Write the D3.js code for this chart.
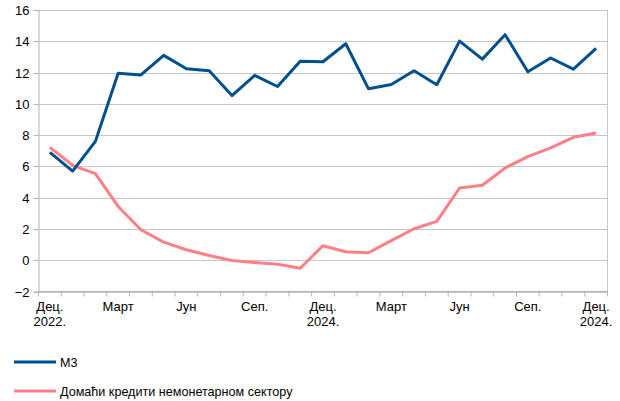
<!DOCTYPE html>
<html>
<head>
<meta charset="utf-8">
<script src="https://cdn.jsdelivr.net/npm/d3@7"></script>
<style>
  body { margin: 0; background: #fff; }
  text { font-family: "Liberation Sans", Arial, sans-serif; fill: #000; }
</style>
</head>
<body>
<svg id="chart" width="620" height="401"></svg>
<script>
// months Dec 2022 .. Dec 2024
var months = d3.range(25);
var tickLabels = ["Дец.|2022.", "", "", "Март", "", "", "Јун", "", "", "Сеп.", "", "",
  "Дец.|2024.", "", "", "Март", "", "", "Јун", "", "", "Сеп.", "", "", "Дец.|2024."];
var m3 = [6.9, 5.7, 7.6, 11.95, 11.85, 13.1, 12.24, 12.11, 10.53, 11.82, 11.11, 12.73,
  12.69, 13.84, 10.96, 11.24, 12.11, 11.22, 14.01, 12.86, 14.42, 12.05, 12.93, 12.22, 13.55];
var credit = [7.22, 6.07, 5.54, 3.44, 1.95, 1.16, 0.67, 0.3, -0.02, -0.14, -0.25, -0.51,
  0.93, 0.54, 0.48, 1.25, 2.01, 2.48, 4.62, 4.79, 5.9, 6.63, 7.18, 7.86, 8.14];
var yTicks = [-2, 0, 2, 4, 6, 8, 10, 12, 14, 16];
var seriesNames = ["М3", "Домаћи кредити немонетарном сектору"];
var colors = ["#004f8f", "#ff7f87"];

var plotLeft = 38.5, plotRight = 607.5, plotTop = 10, plotBottom = 291.5;
var svg = d3.select("#chart");

var x = d3.scaleBand().domain(months).range([plotLeft, plotRight]);
var y = d3.scaleLinear().domain([-2, 16]).range([plotBottom, plotTop]);

// gridlines
svg.append("g").selectAll("line").data(yTicks).enter().append("line")
  .attr("x1", plotLeft).attr("x2", plotRight)
  .attr("y1", function(d){ return Math.round(y(d)) + 0.5; })
  .attr("y2", function(d){ return Math.round(y(d)) + 0.5; })
  .attr("stroke", "#c6c6c6").attr("stroke-width", 1);

// right border
svg.append("line").attr("x1", plotRight).attr("x2", plotRight).attr("y1", plotTop).attr("y2", plotBottom)
  .attr("stroke", "#c6c6c6");

// y axis
var yAxis = d3.axisLeft(y).tickValues(yTicks).tickSize(5).tickPadding(4);
var gy = svg.append("g").attr("transform", "translate(" + plotLeft + ",0)").call(yAxis);
gy.select(".domain").attr("stroke", "#b4b4b4");
gy.selectAll(".tick line").attr("stroke", "#b4b4b4");
gy.selectAll(".tick text").style("font-size", "13px").attr("fill", "#000");
gy.selectAll(".tick").attr("transform", function(d){ return "translate(0," + (Math.round(y(d)) + 0.5) + ")"; });

// x axis line + ticks between categories
svg.append("line").attr("x1", plotLeft).attr("x2", plotRight).attr("y1", plotBottom).attr("y2", plotBottom)
  .attr("stroke", "#b4b4b4");
svg.append("g").selectAll("line").data(d3.range(26)).enter().append("line")
  .attr("x1", function(i){ return i < 25 ? x(i) : plotRight; })
  .attr("x2", function(i){ return i < 25 ? x(i) : plotRight; })
  .attr("y1", plotBottom).attr("y2", plotBottom + 5)
  .attr("stroke", "#b4b4b4");

// x labels
var xl = svg.append("g").selectAll("text").data(months.filter(function(i){ return tickLabels[i] !== ""; }))
  .enter().append("text")
  .attr("text-anchor", "middle")
  .style("font-size", "13px")
  .attr("transform", function(i){ return "translate(" + (x(i) + x.bandwidth() / 2) + "," + (plotBottom + 19) + ")"; });
xl.each(function(i){
  var parts = tickLabels[i].split("|");
  var t = d3.select(this);
  parts.forEach(function(p, k){
    t.append("tspan").attr("x", 0).attr("y", k * 15).text(p);
  });
});

// lines
var line = d3.line()
  .x(function(d, i){ return x(i) + x.bandwidth() / 2; })
  .y(function(d){ return y(d); });

[credit, m3].forEach(function(data, k){
  svg.append("path").datum(data)
    .attr("d", line)
    .attr("fill", "none")
    .attr("stroke", colors[1 - k])
    .attr("stroke-width", 3)
    .attr("stroke-linejoin", "round");
});

// legend
var legend = svg.append("g");
seriesNames.forEach(function(name, k){
  var ly = 362 + k * 29;
  legend.append("line").attr("x1", 14).attr("x2", 56).attr("y1", ly).attr("y2", ly)
    .attr("stroke", colors[k]).attr("stroke-width", 3);
  legend.append("text").attr("x", 60).attr("y", ly + 4.5).style("font-size", "12.6px").text(name);
});
</script>
</body>
</html>
